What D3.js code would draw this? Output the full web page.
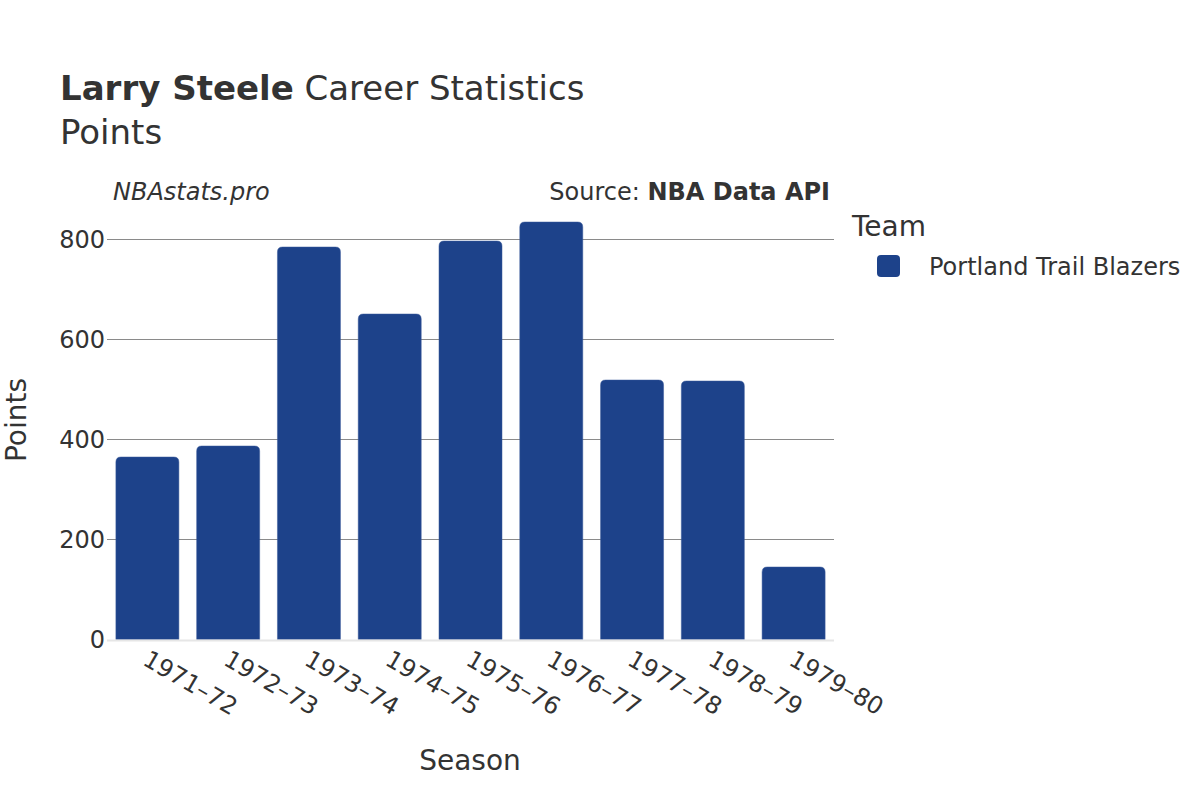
<!DOCTYPE html>
<html>
<head>
<meta charset="utf-8">
<script src="https://cdn.jsdelivr.net/npm/d3@7"></script>
<style>
  html, body { margin: 0; padding: 0; background: #fff; }
  text { font-family: "DejaVu Sans", sans-serif; fill: #333; }
</style>
</head>
<body>
<svg id="chart" width="1200" height="800"></svg>
<script>
const seasons = ["1971–72","1972–73","1973–74","1974–75","1975–76","1976–77","1977–78","1978–79","1979–80"];
const points = [365, 387, 785, 651, 797, 835, 519, 517, 145];
const yTicks = [0, 200, 400, 600, 800];
const teamName = "Portland Trail Blazers";
const teamColor = "#1d428a";

const svg = d3.select("#chart");
const x = d3.scaleBand().domain(seasons).range([107, 834]).paddingInner(0.22).paddingOuter(0.11);
const y = d3.scaleLinear().domain([0, 800]).range([639.5, 239.5]);

// gridlines
svg.append("g").selectAll("line").data(yTicks.filter(d => d > 0)).join("line")
  .attr("x1", 107).attr("x2", 834)
  .attr("y1", d => y(d)).attr("y2", d => y(d))
  .attr("stroke", "#8a8a8a").attr("stroke-width", 1);

// bars with rounded tops
const r = 5;
svg.append("g").selectAll("path").data(seasons).join("path")
  .attr("d", (s, i) => {
    const x0 = x(s), w = x.bandwidth(), y0 = y(0), y1 = y(points[i]);
    return `M${x0},${y0} L${x0},${y1 + r} Q${x0},${y1} ${x0 + r},${y1} L${x0 + w - r},${y1} Q${x0 + w},${y1} ${x0 + w},${y1 + r} L${x0 + w},${y0} Z`;
  })
  .attr("fill", teamColor)
  .attr("stroke", "#3a5a9a").attr("stroke-width", 0.5);

// zero line
svg.append("line").attr("x1", 107).attr("x2", 834).attr("y1", y(0) + 1).attr("y2", y(0) + 1)
  .attr("stroke", "#e6e6e6").attr("stroke-width", 2);

// y axis
const yAxis = d3.axisLeft(y).tickValues(yTicks).tickSize(0).tickPadding(0);
const yg = svg.append("g").attr("transform", "translate(105,0)").call(yAxis);
yg.select(".domain").remove();
yg.selectAll("text").attr("font-size", 24).attr("fill", "#333").attr("dy", "0.35em")
  .style("font-family", "DejaVu Sans");

// x axis
const xAxis = d3.axisBottom(x).tickSize(0).tickPadding(0);
const xg = svg.append("g").attr("transform", "translate(0,640)").call(xAxis);
xg.select(".domain").remove();
xg.selectAll("text")
  .attr("font-size", 24).attr("fill", "#333")
  .style("font-family", "DejaVu Sans")
  .attr("text-anchor", "start")
  .attr("dy", 0).attr("y", 0)
  .attr("transform", "translate(-6,24) rotate(30)");

// titles
const t = svg.append("text").attr("x", 60).attr("y", 100).attr("font-size", 34);
t.append("tspan").attr("font-weight", "bold").text("Larry Steele");
t.append("tspan").text(" Career Statistics");
svg.append("text").attr("x", 60).attr("y", 144).attr("font-size", 34).text("Points");

svg.append("text").attr("x", 113).attr("y", 200).attr("font-size", 24).attr("font-style", "italic").text("NBAstats.pro");
const src = svg.append("text").attr("x", 830).attr("y", 200).attr("font-size", 24).attr("text-anchor", "end");
src.append("tspan").text("Source: ");
src.append("tspan").attr("font-weight", "bold").text("NBA Data API");

// axis titles
svg.append("text").attr("x", 470).attr("y", 770).attr("font-size", 28).attr("text-anchor", "middle").text("Season");
svg.append("text").attr("transform", "translate(26,420) rotate(-90)").attr("font-size", 28).attr("text-anchor", "middle").text("Points");

// legend
svg.append("text").attr("x", 852).attr("y", 236).attr("font-size", 28).text("Team");
svg.append("rect").attr("x", 877).attr("y", 255).attr("width", 23).attr("height", 22).attr("rx", 4)
  .attr("fill", teamColor);
svg.append("text").attr("x", 929).attr("y", 275).attr("font-size", 24).text(teamName);
</script>
</body>
</html>
